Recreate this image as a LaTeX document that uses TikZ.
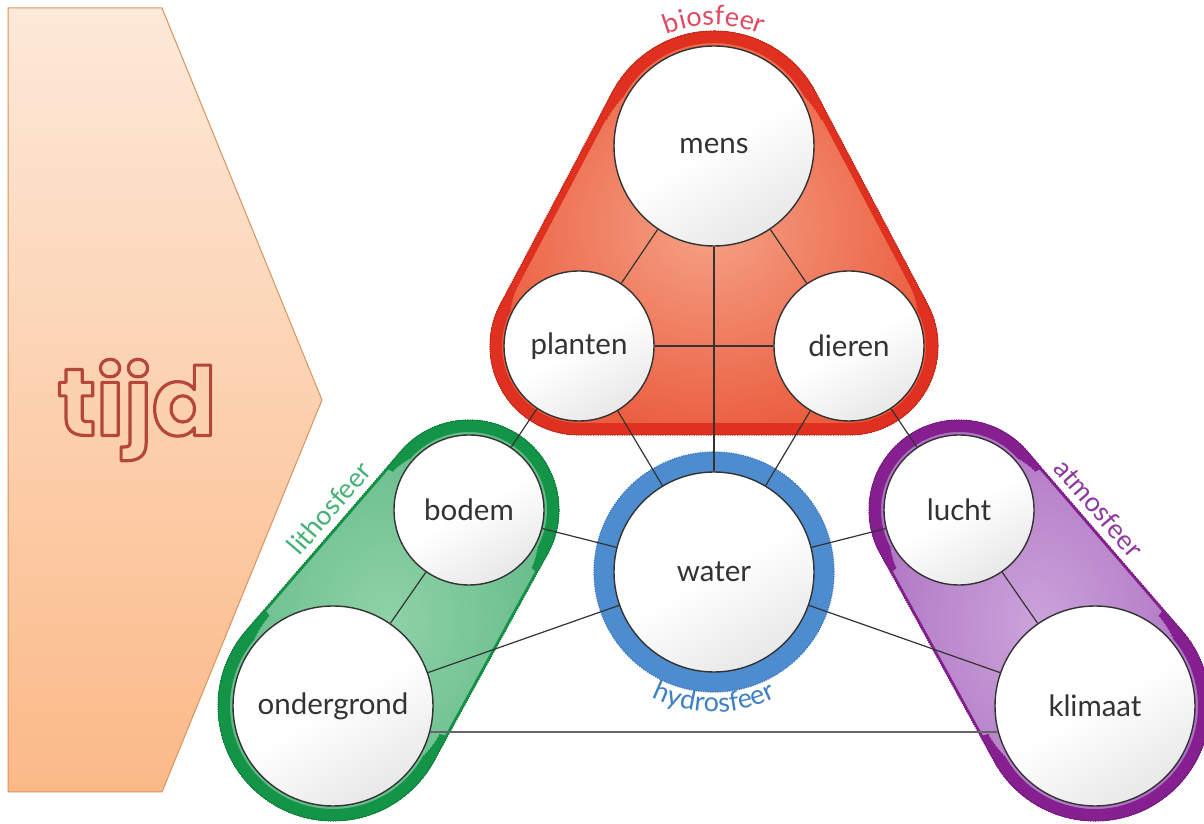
\documentclass[tikz,border=0pt]{standalone}
\usepackage{fontspec}
\setmainfont{Lato}
\newfontfamily\tijdfont{Poppins}
\usetikzlibrary{calc,decorations.text}
\pgfdeclarelayer{bg}
\pgfsetlayers{bg,main}
\definecolor{biodark}{HTML}{E0301F}
\definecolor{bioin}{HTML}{F5A286}
\definecolor{bioout}{HTML}{EB5E40}
\definecolor{biotext}{HTML}{E24A62}
\definecolor{litdark}{HTML}{149447}
\definecolor{litin}{HTML}{8FD2A8}
\definecolor{litout}{HTML}{62BA87}
\definecolor{littext}{HTML}{45B275}
\definecolor{hydring}{HTML}{4E8CD0}
\definecolor{hyddark}{HTML}{3B74BA}
\definecolor{hydtext}{HTML}{3F80C4}
\definecolor{atmdark}{HTML}{861F90}
\definecolor{atmin}{HTML}{CBA3DA}
\definecolor{atmout}{HTML}{AE72C2}
\definecolor{atmtext}{HTML}{8E3A9E}
\definecolor{tijdtop}{HTML}{FDE9D9}
\definecolor{tijdbot}{HTML}{FBB987}
\definecolor{tijdedge}{HTML}{D8945F}
\definecolor{tijdfill}{HTML}{FCD1B0}
\definecolor{linecol}{HTML}{333333}
\tikzset{
  sphere/.style={circle, draw=linecol, line width=1.4pt, inner sep=0pt,
    top color=white, bottom color=black!9, middle color=white, shading angle=30,
    font=\fontsize{29.5}{32}\selectfont, text=black!80},
  bigsphere/.style={sphere, minimum size=200pt},
  smallsphere/.style={sphere, minimum size=150pt},
  link/.style={draw=linecol, line width=1.2pt},
  baselink/.style={draw=black!60, line width=2pt},
  lbl/.style={font=\fontsize{27}{30}\selectfont, inner sep=0pt},
  tijdtxt/.style={font={\fontsize{95}{100}\tijdfont\bfseries}, inner sep=0pt},
}
% tapered band along an arc: colour, node, radius, start angle, end angle
\newcommand\tband[5]{%
  \foreach \e/\w in {0/24,2/22,4/20,6/18,8/16,10/14,12/12,14/10}
    \draw[#1, line width=\w pt] ([shift={(#4-\e:#3)}]#2.center) arc[start angle=#4-\e,end angle=#5+\e,radius=#3];
}
\def\biohull{([shift={(27.8:115)}]mens.center) arc[start angle=27.8,end angle=152.2,radius=115] -- ([shift={(152.2:89)}]planten.center) arc[start angle=152.2,end angle=270,radius=89] -- ([shift={(270:89)}]dieren.center) arc[start angle=270,end angle=387.8,radius=89] -- cycle}
\def\lithull{([shift={(-28.75:90)}]bodem.center) arc[start angle=-28.75,end angle=139.25,radius=90] -- ([shift={(139.25:115)}]ondergrond.center) arc[start angle=139.25,end angle=331.25,radius=115] -- cycle}
\def\atmhull{([shift={(40.75:90)}]lucht.center) arc[start angle=40.75,end angle=208.75,radius=90] -- ([shift={(208.75:115)}]klimaat.center) arc[start angle=208.75,end angle=400.75,radius=115] -- cycle}
\begin{document}
\begin{tikzpicture}[x=1pt,y=1pt]
\useasboundingbox (0,0) rectangle (1204,824);
% spheres (circles)
\node[bigsphere] (mens) at (714,678) {mens};
\node[smallsphere] (planten) at (579,478) {planten};
\node[smallsphere] (dieren) at (849,478) {dieren};
\node[smallsphere] (bodem) at (469,314) {bodem};
\node[bigsphere] (water) at (714,252) {water};
\node[smallsphere] (lucht) at (959,314) {lucht};
\node[bigsphere] (ondergrond) at (333,118) {ondergrond};
\node[bigsphere] (klimaat) at (1095,118) {klimaat};

\begin{pgfonlayer}{bg}
\fill[white] (0,0) rectangle (1204,824);
% tijd arrow
\path[top color=tijdtop, bottom color=tijdbot, draw=tijdedge, line width=1pt]
  (8,816) -- (162,816) -- (322,424) -- (162,32) -- (8,32) -- cycle;
% biosfeer
\shade[inner color=bioin, outer color=bioout] \biohull;
\begin{scope}
\clip \biohull;
\draw[biodark, line width=14pt] \biohull;
\tband{biodark}{mens}{115}{27.8}{152.2}
\tband{biodark}{planten}{89}{152.2}{270}
\tband{biodark}{dieren}{89}{270}{387.8}
\draw[biodark, line width=24pt] ([shift={(270:89)}]planten.center) -- ([shift={(270:89)}]dieren.center);
\end{scope}
\draw[biodark!80!black, line width=1.2pt, dash pattern=on 1.2pt off 1.2pt] \biohull;
% lithosfeer
\shade[inner color=litin, outer color=litout] \lithull;
\begin{scope}
\clip \lithull;
\draw[litdark, line width=5pt] \lithull;
\tband{litdark}{bodem}{90}{-28.75}{139.25}
\tband{litdark}{ondergrond}{115}{139.25}{331.25}
\end{scope}
\draw[litdark!80!black, line width=1.2pt, dash pattern=on 1.2pt off 1.2pt] \lithull;
% atmosfeer
\shade[inner color=atmin, outer color=atmout] \atmhull;
\begin{scope}
\clip \atmhull;
\draw[atmdark, line width=5pt] \atmhull;
\tband{atmdark}{lucht}{90}{40.75}{208.75}
\tband{atmdark}{klimaat}{115}{208.75}{400.75}
\end{scope}
\draw[atmdark!80!black, line width=1.2pt, dash pattern=on 1.2pt off 1.2pt] \atmhull;
% hydrosfeer ring
\draw[hydring, line width=20pt] (water.center) circle[radius=110];
\draw[hyddark, line width=1.2pt, dash pattern=on 1.2pt off 1.2pt] (water.center) circle[radius=120];
\end{pgfonlayer}

% connectors
\draw[link] (mens) -- (planten);
\draw[link] (mens) -- (dieren);
\draw[link] (mens) -- (water);
\draw[link] (planten) -- (dieren);
\draw[link] (planten) -- (bodem);
\draw[link] (planten) -- (water);
\draw[link] (dieren) -- (water);
\draw[link] (dieren) -- (lucht);
\draw[link] (bodem) -- (ondergrond);
\draw[link] (bodem) -- (water);
\draw[link] (ondergrond) -- (water);
\draw[link] (lucht) -- (water);
\draw[link] (lucht) -- (klimaat);
\draw[link] (water) -- (klimaat);
\draw[baselink] (ondergrond.-15) -- (klimaat.195);

% sphere labels
\path[decorate, decoration={text along path, text align=center, text color=biotext,
  text={|\fontsize{27}{30}\selectfont|biosfeer}}]
  ([shift={(125:121)}]mens.center) arc[start angle=125,end angle=55,radius=121];
\path[decorate, decoration={text along path, text align=center, text color=hydtext,
  text={|\fontsize{27}{30}\selectfont|hydrosfeer}}]
  ([shift={(232:140)}]water.center) arc[start angle=232,end angle=308,radius=140];
\node[lbl, text=littext, rotate=49.25] (lithlabel) at (329,316) {lithosfeer};
\node[lbl, text=atmtext, rotate=-49.25] (atmlabel) at (1099,316) {atmosfeer};

% tijd (outlined letters)
\node[tijdtxt, text=tijdfill] (tijd) at (137,414)
  {\special{pdf:literal direct q 2 Tr 3.2 w 1 j 0.706 0.275 0.235 RG}tijd\special{pdf:literal direct Q}};
\end{tikzpicture}
\end{document}
